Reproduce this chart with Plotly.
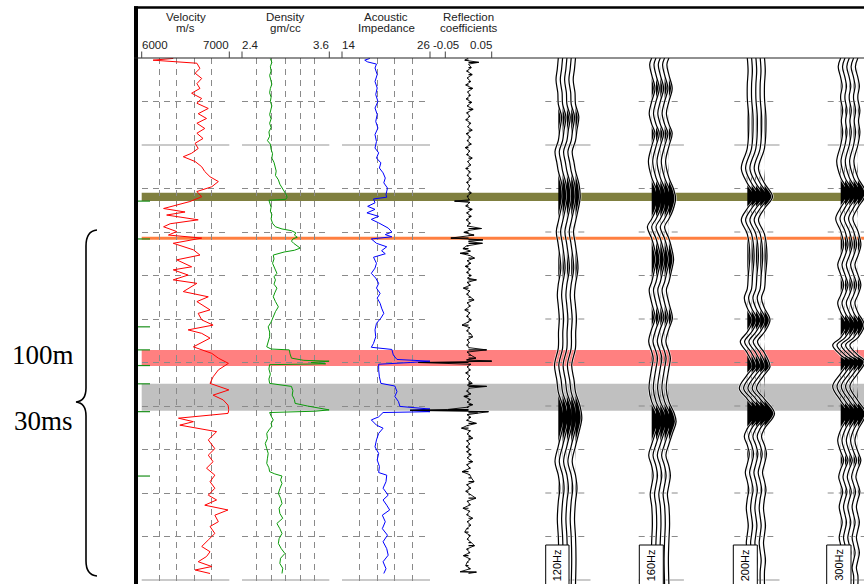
import plotly.graph_objects as go

# ======================= DATA =======================
# depth unit: one grid interval = 10 units (two-way-time-like sample index)
VELOCITY = [(0.1, 6360), (0.5, 6130), (1.2, 6630), (2.4, 6665), (3.5, 6610), (4.7, 6685), (5.9, 6630),
            (7.0, 6665), (8.1, 6570), (9.3, 6685), (10.4, 6630), (11.6, 6760), (12.8, 6645), (13.9, 6740),
            (15.0, 6630), (16.2, 6720), (17.3, 6630), (18.5, 6700), (19.6, 6610), (20.8, 6645), (21.9, 6570),
            (22.7, 6475), (23.8, 6610), (25.0, 6685), (26.1, 6720), (27.3, 6780), (28.4, 6875), (29.6, 6800),
            (30.7, 6630), (31.9, 6685), (33.0, 6550), (33.8, 6400), (34.6, 6250), (35.4, 6495), (36.1, 6285),
            (37.2, 6645), (38.1, 6325), (38.8, 6250), (39.9, 6400), (40.7, 6305), (41.4, 6685), (42.6, 6360),
            (44.1, 6590), (45.3, 6665), (46.4, 6400), (48.0, 6570), (48.7, 6360), (49.9, 6530), (51.0, 6360),
            (51.8, 6630), (53.7, 6475), (54.9, 6760), (56.0, 6630), (57.9, 6780), (58.7, 6645), (60.2, 6685),
            (61.4, 6815), (62.5, 6530), (63.3, 6685), (64.4, 6780), (66.4, 6590), (67.9, 6800), (69.0, 6875),
            (70.2, 6990), (71.7, 6875), (73.3, 6815), (74.8, 6780), (76.3, 6995), (77.5, 6815), (78.6, 6930),
            (79.8, 6985), (80.9, 6995), (81.7, 6985), (82.8, 6420), (83.6, 6590), (84.4, 6435), (85.1, 6645),
            (85.9, 6855), (87.8, 6760), (89.8, 6835), (91.3, 6760), (92.8, 6815), (94.3, 6740), (95.9, 6835),
            (97.4, 6780), (98.9, 6835), (100.5, 6760), (101.6, 6855), (102.8, 6720), (103.9, 6985), (105.1, 6835),
            (106.6, 6875), (107.7, 6780), (109.3, 6835), (110.8, 6760), (112.3, 6685), (113.5, 6780), (114.6, 6740),
            (115.8, 6645), (116.9, 6800), (117.7, 6610), (118.5, 6780)]

DENSITY = [(0.1, 2.79), (1.0, 2.81), (2.0, 2.79), (3.0, 2.80), (4.0, 2.78), (5.0, 2.80), (6.0, 2.81), (7.0, 2.79),
           (8.0, 2.78), (9.0, 2.80), (10.0, 2.79), (11.0, 2.81), (12.0, 2.79), (13.0, 2.78), (14.0, 2.80),
           (15.0, 2.78), (16.0, 2.80), (17.0, 2.77), (18.0, 2.78), (19.0, 2.75), (19.8, 2.79), (21.0, 2.80),
           (22.0, 2.82), (23.0, 2.81), (24.0, 2.84), (25.0, 2.85), (26.0, 2.87), (27.0, 2.86), (28.0, 2.90),
           (29.0, 2.92), (29.8, 2.95), (30.5, 2.97), (31.2, 3.00), (32.0, 3.02), (32.5, 3.00), (32.7, 2.77),
           (33.5, 2.78), (34.3, 2.80), (35.2, 2.79), (36.0, 2.81), (37.0, 2.80), (38.0, 2.82), (38.8, 2.86),
           (39.3, 2.95), (39.7, 3.08), (40.2, 3.14), (40.7, 3.12), (41.2, 3.16), (41.6, 3.10), (42.1, 3.08),
           (42.6, 3.11), (43.2, 3.16), (43.7, 3.20), (44.2, 3.12), (44.6, 2.98), (45.3, 2.83), (46.2, 2.84),
           (47.2, 2.82), (48.3, 2.85), (49.5, 2.88), (50.3, 2.84), (51.0, 2.86), (52.0, 2.84), (52.9, 2.88),
           (54.0, 2.85), (54.9, 2.83), (56.0, 2.86), (57.2, 2.90), (58.3, 2.86), (59.5, 2.83), (60.7, 2.80),
           (61.8, 2.76), (63.0, 2.78), (64.1, 2.78), (65.2, 2.76), (66.4, 2.74), (66.9, 2.80), (67.1, 3.05),
           (68.0, 3.06), (69.0, 3.08), (69.5, 3.25), (69.7, 3.60), (70.0, 3.35), (70.3, 3.55), (70.5, 2.78),
           (71.5, 2.77), (72.7, 2.79), (73.8, 2.77), (74.8, 2.78), (75.2, 2.95), (75.5, 3.08), (76.5, 3.10),
           (77.5, 3.09), (78.5, 3.12), (79.4, 3.13), (80.0, 3.30), (80.5, 3.45), (80.9, 3.60), (81.2, 3.40),
           (81.5, 2.78), (82.3, 2.80), (83.2, 2.83), (84.0, 2.80), (84.7, 2.81), (85.5, 2.77), (86.3, 2.74),
           (87.5, 2.75), (88.6, 2.72), (89.8, 2.74), (90.9, 2.76), (92.0, 2.75), (93.2, 2.74), (94.2, 2.77),
           (95.1, 2.78), (95.6, 2.85), (96.1, 2.95), (97.0, 2.93), (97.8, 2.95), (99.0, 2.92), (100.1, 2.90),
           (101.2, 2.93), (102.4, 2.95), (103.5, 2.91), (104.7, 2.92), (105.8, 2.96), (107.0, 2.88), (108.2, 2.92),
           (109.3, 2.95), (110.5, 2.91), (111.6, 2.90), (112.8, 2.94), (113.9, 2.99), (115.0, 2.93), (116.2, 2.92),
           (117.3, 2.96), (118.5, 2.95)]

IMPEDANCE = [(0.1, 17.8), (0.5, 17.1), (0.9, 17.5), (1.4, 18.7), (2.3, 18.5), (3.8, 18.8), (5.4, 18.5), (6.9, 18.8),
             (8.4, 18.6), (10.0, 18.9), (11.5, 18.5), (13.0, 18.8), (14.6, 18.6), (16.1, 18.9), (17.6, 18.5),
             (19.2, 18.7), (20.7, 18.5), (21.8, 19.0), (23.0, 18.7), (24.1, 19.3), (25.3, 19.1), (26.4, 19.6),
             (27.6, 19.9), (28.7, 19.7), (29.9, 20.2), (31.4, 20.0), (32.0, 20.1), (32.4, 18.3), (33.3, 18.5),
             (34.1, 17.5), (34.8, 18.5), (35.6, 17.4), (36.4, 19.0), (37.1, 18.0), (37.9, 19.0), (39.1, 20.3),
             (40.0, 20.8), (40.6, 19.9), (41.1, 20.8), (41.6, 18.0), (42.6, 18.7), (43.4, 20.1), (44.3, 19.4),
             (45.0, 19.9), (45.8, 18.3), (47.2, 18.7), (48.3, 18.5), (49.5, 18.0), (50.6, 18.6), (51.8, 19.0),
             (52.9, 18.7), (54.1, 19.2), (55.2, 18.8), (56.4, 19.2), (57.5, 19.4), (58.7, 19.7), (59.8, 19.3),
             (61.0, 18.7), (62.5, 18.5), (64.1, 18.6), (65.6, 18.3), (66.5, 18.0), (67.0, 20.8), (68.3, 21.0),
             (69.3, 21.5), (69.7, 26.0), (70.0, 23.3), (70.4, 19.0), (71.7, 19.0), (73.3, 19.1), (74.8, 19.3),
             (75.4, 21.2), (76.7, 21.5), (77.8, 21.2), (79.0, 21.7), (80.1, 21.9), (80.7, 26.0), (81.0, 23.3),
             (81.3, 26.0), (81.5, 19.6), (82.5, 19.0), (83.2, 18.0), (84.4, 18.7), (85.1, 19.6), (86.3, 19.0),
             (87.8, 18.7), (89.4, 18.5), (90.9, 19.0), (92.4, 18.8), (93.9, 19.1), (95.3, 19.0), (95.9, 20.1),
             (97.4, 20.0), (98.9, 19.6), (100.5, 20.3), (101.6, 19.6), (102.8, 20.1), (103.9, 20.5), (105.1, 19.5),
             (106.6, 19.9), (108.2, 19.5), (109.7, 20.2), (111.2, 19.6), (112.8, 20.1), (114.3, 20.3), (115.8, 19.6),
             (117.4, 20.0), (118.5, 19.7)]

REFLECTION = [(0.0, 0.0), (0.5, -0.008), (1.0, 0.022), (1.4, 0.0), (2.2, 0.006), (3.0, -0.004), (3.8, 0.008),
              (4.6, -0.003), (5.4, 0.005), (6.2, -0.006), (7.0, 0.009), (7.8, -0.002), (8.6, 0.004), (9.4, -0.005),
              (10.2, 0.007), (11.0, -0.003), (11.8, 0.010), (12.6, -0.004), (13.4, 0.003), (14.2, -0.006),
              (15.0, 0.005), (15.8, -0.002), (16.6, 0.008), (17.4, -0.005), (18.2, 0.004), (19.0, -0.003),
              (19.8, 0.006), (20.6, -0.007), (21.4, 0.003), (22.2, -0.004), (23.0, 0.008), (23.8, -0.002),
              (24.6, 0.005), (25.4, -0.006), (26.2, 0.004), (27.0, -0.003), (27.8, 0.006), (28.6, -0.004),
              (29.4, 0.003), (30.2, -0.002), (31.0, 0.006), (31.8, -0.003), (32.6, 0.002), (32.9, -0.030),
              (33.2, 0.003), (34.0, -0.006), (34.8, 0.008), (35.6, -0.004), (36.4, 0.006), (37.2, -0.005),
              (38.0, 0.004), (38.6, -0.003), (39.2, 0.028), (39.6, 0.002), (40.1, -0.010), (40.7, 0.012),
              (41.4, -0.038), (41.8, 0.031), (42.2, 0.0), (42.6, 0.030), (43.2, -0.004), (43.8, -0.012),
              (44.4, 0.004), (44.9, -0.018), (45.4, 0.003), (46.0, 0.013), (46.6, -0.003), (47.2, 0.005),
              (47.9, -0.007), (48.6, 0.004), (49.3, -0.004), (50.0, 0.006), (50.6, -0.002), (51.0, 0.017),
              (51.6, -0.003), (52.2, 0.004), (52.9, -0.011), (53.6, 0.003), (54.3, -0.004), (55.0, 0.005),
              (55.6, 0.012), (56.3, -0.003), (57.0, 0.004), (57.9, -0.008), (58.6, 0.003), (59.4, -0.004),
              (60.2, 0.006), (60.8, -0.003), (61.4, -0.014), (62.0, 0.003), (62.7, -0.004), (63.4, 0.005),
              (64.1, 0.009), (64.8, -0.003), (65.4, 0.002), (66.0, -0.004), (66.6, 0.002), (67.1, 0.039),
              (67.6, -0.003), (68.3, 0.005), (69.0, 0.016), (69.4, -0.004), (69.7, 0.053), (70.0, -0.108),
              (70.4, 0.005), (71.0, -0.003), (71.7, 0.004), (72.4, -0.006), (73.1, 0.003), (73.8, -0.003),
              (74.5, 0.004), (74.8, 0.008), (75.2, -0.002), (75.5, 0.039), (75.9, 0.002), (76.6, -0.004),
              (77.2, 0.005), (77.8, -0.010), (78.5, 0.004), (79.1, -0.003), (79.7, 0.009), (80.3, -0.004),
              (80.8, -0.045), (81.0, -0.126), (81.3, 0.043), (81.6, 0.020), (82.0, -0.003), (82.6, 0.005),
              (83.3, -0.004), (84.0, 0.017), (84.5, -0.003), (85.1, -0.015), (85.7, 0.004), (86.4, -0.003),
              (87.0, 0.005), (87.4, 0.009), (88.0, -0.004), (88.7, 0.003), (89.4, -0.005), (90.0, 0.004),
              (90.5, -0.004), (91.2, 0.006), (91.9, -0.003), (92.8, 0.009), (93.5, -0.004), (94.3, 0.004),
              (95.1, -0.014), (95.8, 0.003), (96.5, 0.006), (97.4, 0.012), (98.1, -0.004), (98.9, 0.005),
              (99.6, -0.006), (100.4, 0.004), (101.2, 0.016), (101.9, -0.003), (102.7, 0.004), (103.5, -0.012),
              (104.2, 0.003), (105.0, -0.004), (105.8, 0.009), (106.6, -0.003), (107.4, 0.005), (108.2, -0.004),
              (109.0, -0.008), (109.8, 0.004), (110.6, -0.003), (111.4, 0.006), (112.1, 0.013), (112.9, -0.004),
              (113.7, 0.003), (114.4, -0.011), (115.2, 0.004), (115.9, -0.003), (116.7, -0.006), (117.4, 0.004),
              (118.1, -0.018), (118.2, 0.017), (118.5, 0.0)]

# synthetic seismogram amplitude (one trace per frequency, repeated 5x in the display)
SYN_120HZ = [(0, 0), (2.5, -1), (5, -2.3), (8, -0.5), (10.6, 0), (13.5, 3.3), (16.5, 1.5), (19, 0), (21.5, -3.3),
             (24, -1.5), (26, 0), (29, 3.5), (32, 4.7), (35, 2.5), (37.6, 0), (39.9, -2), (43, 0), (48.4, 2.5),
             (52, 0), (54.5, -1), (57, 0), (60, 1), (63, 0.2), (66.7, 0), (70.6, -3.8), (74, -1.5), (76.8, 0),
             (80, 4.5), (82.8, 6.3), (86, 3.5), (89.2, 0), (92.8, -3.3), (95.9, 0), (99, 1.5), (102, 0),
             (106, -1), (110, 0), (115, 0.5), (121, 0)]
SYN_160HZ = [(0, 0), (1.5, -2), (3.9, 0), (7, 3.3), (10, 0), (12.7, -2.5), (15.2, 0), (17.3, 3.3), (20.3, 0),
             (23.8, -3.3), (27.5, 0), (30, 4.5), (32.3, 6.7), (35, 4), (37, 0), (38.8, -4.3), (41.5, 0), (44, 3),
             (46.4, 4.7), (49, 2.5), (51.5, 0), (53.3, -2.5), (56.3, 0), (59.8, 3.5), (62.3, 0), (65.2, -3),
             (67.5, 0), (69, 1.5), (71.3, 0), (76, -2.7), (79, 0), (81.5, 5), (83.6, 7.2), (86, 4), (88.8, 0),
             (91.3, -3), (93.8, 0), (96, 1.5), (98.2, 0), (100.3, -1.5), (103, 0), (107, 0.7), (111, 0),
             (115, -0.5), (121, 0)]
SYN_200HZ = [(0, 0), (3, 0.8), (6, 0), (9.3, 0), (14, 1.5), (20.7, 0), (25.4, -6), (28.8, 0), (31.9, 8),
             (34.6, 0), (37.2, -6), (40.5, 0), (45.3, 2.5), (50, 1), (53, 0), (55.2, -3), (57.5, 0), (60.2, 5.5),
             (63, 0), (65.2, -7), (67.8, 0), (71, 5.5), (72.8, 0), (75.9, -8), (78.4, 0), (81.7, 10), (85.2, 0),
             (87, -3), (89, 0), (91, 2), (93.3, 0), (95.3, -2), (97.3, 0), (99.3, 1.5), (101.3, 0), (103.5, -1),
             (105.5, 0), (107.5, 1), (109.5, 0), (111.5, -1), (113.5, 0), (115.5, 1), (118, 0), (121, 0)]
SYN_300HZ = [(0, 0), (2, -2.5), (4.5, 0), (6.5, 1.5), (8.5, 0), (9.5, 0), (12, 2), (14.5, 0.6), (17, 2), (20, 0),
             (23.8, -4), (27.5, 0), (31.1, 8), (34.4, 0), (36.9, -5), (39.8, 0), (43, 3), (45.5, 0), (47.5, -3),
             (49.8, 0), (52.2, 3), (54.5, 0), (56.3, -3), (58.5, 0), (61.4, 6.5), (64.3, 0), (66, -8), (68.3, 0),
             (69.8, 7), (72.5, 0), (75.5, -8), (78.8, 0), (81.7, 8), (85.5, 0), (88, -3), (90.5, 0), (92.5, 3),
             (94.5, 0), (96.3, -2), (98, 0), (99.7, 2), (101.5, 0), (103.2, -1.5), (105, 0), (106.7, 1.5),
             (108.5, 0), (110.2, -1.5), (112, 0), (113.7, 1.5), (115.5, 0), (117.2, -1.5), (119, 0), (121, 0)]
FREQ_LABELS = ["120Hz", "160Hz", "200Hz", "300Hz"]

# highlighted horizons (depth units)
BAND_TOP = [31.0, 41.1, 67.1, 74.9]
BAND_BASE = [32.9, 41.8, 70.8, 81.1]
BAND_COLOR = ["#7f7f3f", "#ff7f40", "#ff8080", "#c0c0c0"]
MARKER_DEPTHS = [32.9, 41.6, 61.8, 67.1, 70.7, 74.9, 81.3, 96.1]

TRACK_TITLES = [("Velocity", "m/s"), ("Density", "gm/cc"), ("Acoustic", "Impedance"), ("Reflection", "coefficients")]
TRACK_RANGES = [(6000, 7000), (2.4, 3.6), (14, 26), (-0.05, 0.05)]
TRACK_GRID = [[6000, 6200, 6400, 6600, 6800, 7000],
              [2.4, 2.6, 2.8, 3.0, 3.2, 3.4, 3.6],
              [14, 16.4, 18.8, 21.2, 23.6, 26],
              [-0.05, 0, 0.05]]
TRACK_TICKTEXT = [("6000", "7000"), ("2.4", "3.6"), ("14", "26"), ("-0.05", "0.05")]
DEPTH_GRID = [10, 30, 40, 50, 60, 70, 80, 90, 100, 110]
DEPTH_SOLID = [20, 120]

# ======================= LAYOUT CONSTANTS (pixels) =======================
W, H = 864, 584
TOP_PX, BOT_PX, PX_PER_UNIT = 58.0, 584.0, 4.35
T_MAX = (BOT_PX - TOP_PX) / PX_PER_UNIT
TRACK_PX = [(141.7, 229.3), (242.0, 329.3), (342.0, 430.0), (445.3, 491.7)]
RC_WIDE_LEFT = 405.0
SEIS_LEFT = 500.0
GROUP_BASE = [558.3, 651.7, 747.3, 840.7]
TRACE_STEP = 4.3
N_TRACES = 5
LABEL_BOX = [(545.7, 569.0), (639.3, 663.3), (733.3, 757.3), (826.7, 851.0)]
GRID_COLOR = "#8a8a8a"
SOLID_GRID = "#b8b8b8"
DASH = "6px,5px"
SANS = "Liberation Sans, Arial, sans-serif"
SERIF = "Liberation Serif, Times New Roman, serif"


def fx(px):
    return px / W


def fy(py):
    return 1 - py / H


def ax(n):
    return "" if n == 1 else str(n)


ydom = [0, fy(TOP_PX)]
fig = go.Figure()
layout = dict(width=W, height=H, margin=dict(l=0, r=0, t=0, b=0), autosize=False,
              paper_bgcolor="white", plot_bgcolor="rgba(0,0,0,0)", showlegend=False)

# track axes 1..4
for i in range(4):
    n = i + 1
    l, r = TRACK_PX[i]
    layout[f"xaxis{ax(n)}"] = dict(domain=[fx(l), fx(r)], range=list(TRACK_RANGES[i]), anchor=f"y{ax(n)}",
                                   tickvals=TRACK_GRID[i], showticklabels=False, ticks="", showgrid=True,
                                   gridcolor=GRID_COLOR, griddash=DASH, gridwidth=1, zeroline=False,
                                   showline=False, fixedrange=True)
    layout[f"yaxis{ax(n)}"] = dict(domain=ydom, range=[T_MAX, 0], anchor=f"x{ax(n)}", tickvals=DEPTH_GRID,
                                   showticklabels=False, ticks="", showgrid=True, gridcolor=GRID_COLOR,
                                   griddash=DASH, gridwidth=1, zeroline=False, showline=False, fixedrange=True)

# wide invisible axis for reflection spikes that overshoot the track
rc_l, rc_r = TRACK_PX[3]
rc_lo, rc_hi = TRACK_RANGES[3]
rc_scale = (rc_hi - rc_lo) / (rc_r - rc_l)
layout["xaxis5"] = dict(domain=[fx(RC_WIDE_LEFT), fx(rc_r)],
                        range=[rc_lo - (rc_l - RC_WIDE_LEFT) * rc_scale, rc_hi], anchor="y5",
                        visible=False, fixedrange=True)
layout["yaxis5"] = dict(domain=ydom, range=[T_MAX, 0], anchor="x5", visible=False, fixedrange=True)
# seismic panel (x in screen-pixel-like units)
layout["xaxis6"] = dict(domain=[fx(SEIS_LEFT), 1], range=[SEIS_LEFT, W], anchor="y6", visible=False,
                        fixedrange=True)
layout["yaxis6"] = dict(domain=ydom, range=[T_MAX, 0], anchor="x6", visible=False, fixedrange=True)


def unzip(pairs):
    return [p[0] for p in pairs], [p[1] for p in pairs]


# ---------- log curves ----------
for n, data, color in [(1, VELOCITY, "#ff0000"), (2, DENSITY, "#0a9a0a"), (3, IMPEDANCE, "#0000ff")]:
    t, v = unzip(data)
    fig.add_trace(go.Scatter(x=v, y=t, xaxis=f"x{ax(n)}", yaxis=f"y{ax(n)}", mode="lines",
                             line=dict(color=color, width=1), hoverinfo="skip"))

# reflection coefficients: continuous log plus horizontal spikes off zero
rt, rv = unzip(REFLECTION)
fig.add_trace(go.Scatter(x=rv, y=rt, xaxis="x5", yaxis="y5", mode="lines",
                         line=dict(color="black", width=0.9), hoverinfo="skip"))
sx, sy = [], []
for t, v in REFLECTION:
    sx += [0, v, None]
    sy += [t, t, None]
fig.add_trace(go.Scatter(x=sx, y=sy, xaxis="x5", yaxis="y5", mode="lines",
                         line=dict(color="black", width=1.2), hoverinfo="skip"))

# ---------- wiggle traces ----------
for g, syn in enumerate([SYN_120HZ, SYN_160HZ, SYN_200HZ, SYN_300HZ]):
    t, a = unzip(syn)
    for k in range(N_TRACES):
        base = GROUP_BASE[g] + k * TRACE_STEP
        fig.add_trace(go.Scatter(x=[base] * len(t), y=t, xaxis="x6", yaxis="y6", mode="lines",
                                 line=dict(width=0, color="black"), hoverinfo="skip"))
        fig.add_trace(go.Scatter(x=[base + max(v, 0) for v in a], y=t, xaxis="x6", yaxis="y6", mode="lines",
                                 line=dict(width=0, color="black", shape="spline"), fill="tonextx",
                                 fillcolor="black", hoverinfo="skip"))
        fig.add_trace(go.Scatter(x=[base + v for v in a], y=t, xaxis="x6", yaxis="y6", mode="lines",
                                 line=dict(width=2.4, color="rgba(255,255,255,0.85)", shape="spline"),
                                 hoverinfo="skip"))
        fig.add_trace(go.Scatter(x=[base + v for v in a], y=t, xaxis="x6", yaxis="y6", mode="lines",
                                 line=dict(width=1.2, color="black", shape="spline"), hoverinfo="skip"))

shapes = []
# horizon bands
for top, base, col in zip(BAND_TOP, BAND_BASE, BAND_COLOR):
    shapes.append(dict(type="rect", xref="paper", yref="y", x0=fx(TRACK_PX[0][0]), x1=1, y0=top, y1=base,
                       fillcolor=col, line=dict(width=0), layer="below"))
# solid grid lines in tracks
for n in range(1, 5):
    for d in DEPTH_SOLID:
        shapes.append(dict(type="line", xref=f"x{ax(n)} domain", yref="y", x0=0, x1=1, y0=d, y1=d,
                           line=dict(color=SOLID_GRID, width=1.5), layer="below"))
# grid segments around each wiggle group
for g in range(4):
    x0 = GROUP_BASE[g] - 13
    x1 = GROUP_BASE[g] + (N_TRACES - 1) * TRACE_STEP + 11
    for d in DEPTH_GRID:
        shapes.append(dict(type="line", xref="x6", yref="y6", x0=x0, x1=x1, y0=d, y1=d,
                           line=dict(color=GRID_COLOR, width=1, dash=DASH), layer="below"))
    for d in DEPTH_SOLID:
        shapes.append(dict(type="line", xref="x6", yref="y6", x0=x0, x1=x1 + 4, y0=d, y1=d,
                           line=dict(color=SOLID_GRID, width=1.5), layer="below"))
# green marker ticks at left edge
for d in MARKER_DEPTHS:
    shapes.append(dict(type="line", xref="paper", yref="y", x0=fx(134), x1=fx(150), y0=d, y1=d,
                       line=dict(color="#1a8f1a", width=1.2), layer="above"))
# frame lines
shapes.append(dict(type="line", xref="paper", yref="paper", x0=fx(136), x1=fx(136), y0=fy(6.3), y1=0,
                   line=dict(color="black", width=4), layer="above"))
shapes.append(dict(type="line", xref="paper", yref="paper", x0=fx(134), x1=1, y0=fy(7.5), y1=fy(7.5),
                   line=dict(color="black", width=2.5), layer="above"))
shapes.append(dict(type="line", xref="paper", yref="paper", x0=fx(134), x1=1, y0=fy(TOP_PX), y1=fy(TOP_PX),
                   line=dict(color="#222222", width=1.2), layer="above"))
# header ticks at track edges
for l, r in TRACK_PX:
    for xp in (l, r):
        shapes.append(dict(type="line", xref="paper", yref="paper", x0=fx(xp), x1=fx(xp), y0=fy(51.5),
                           y1=fy(TOP_PX), line=dict(color="#444444", width=1), layer="above"))
# frequency label boxes
for l, r in LABEL_BOX:
    shapes.append(dict(type="rect", xref="paper", yref="paper", x0=fx(l), x1=fx(r), y0=fy(545), y1=fy(600),
                       fillcolor="white", line=dict(color="black", width=1), layer="above"))
# curly brace
pts = "M {},{} Q {},{} {},{} L {},{} Q {},{} {},{} Q {},{} {},{} L {},{} Q {},{} {},{}".format(
    fx(97), fy(230), fx(86), fy(231), fx(86), fy(246), fx(86), fy(388), fx(86), fy(401), fx(76), fy(402),
    fx(86), fy(403), fx(86), fy(416), fx(86), fy(561), fx(86), fy(575), fx(97), fy(576))
shapes.append(dict(type="path", xref="paper", yref="paper", path=pts, line=dict(color="black", width=1.6),
                   layer="above"))

annotations = []
for i, (a, b) in enumerate(TRACK_TITLES):
    cx = (TRACK_PX[i][0] + TRACK_PX[i][1]) / 2
    for txt, yy in ((a, 17), (b, 28.5)):
        annotations.append(dict(text=txt, x=fx(cx), y=fy(yy), xref="paper", yref="paper", showarrow=False,
                                xanchor="center", yanchor="middle", font=dict(family=SANS, size=11.5, color="#222")))
    lo, hi = TRACK_TICKTEXT[i]
    l, r = TRACK_PX[i]
    if i == 3:
        annotations.append(dict(text=lo, x=fx(l + 1), y=fy(45), xref="paper", yref="paper", showarrow=False,
                                xanchor="center", yanchor="middle", font=dict(family=SANS, size=11.5, color="#222")))
    else:
        annotations.append(dict(text=lo, x=fx(l - 2), y=fy(45), xref="paper", yref="paper", showarrow=False,
                                xanchor="left", yanchor="middle", font=dict(family=SANS, size=11.5, color="#222")))
    annotations.append(dict(text=hi, x=fx(r + 2), y=fy(45), xref="paper", yref="paper", showarrow=False,
                            xanchor="right", yanchor="middle", font=dict(family=SANS, size=11.5, color="#222")))

for txt, yy in (("100m", 355), ("30ms", 421)):
    annotations.append(dict(text=txt, x=fx(43), y=fy(yy), xref="paper", yref="paper", showarrow=False,
                            xanchor="center", yanchor="middle", font=dict(family=SERIF, size=27, color="black")))

for (l, r), lab in zip(LABEL_BOX, FREQ_LABELS):
    annotations.append(dict(text=lab, x=fx((l + r) / 2), y=fy(565), xref="paper", yref="paper",
                            showarrow=False, textangle=-90, xanchor="center", yanchor="middle",
                            font=dict(family=SANS, size=11, color="black")))

layout["shapes"] = shapes
layout["annotations"] = annotations
fig.update_layout(**layout)
fig.write_html("out.html", config={"displayModeBar": False},
               post_script="document.body.style.margin='0px';")
